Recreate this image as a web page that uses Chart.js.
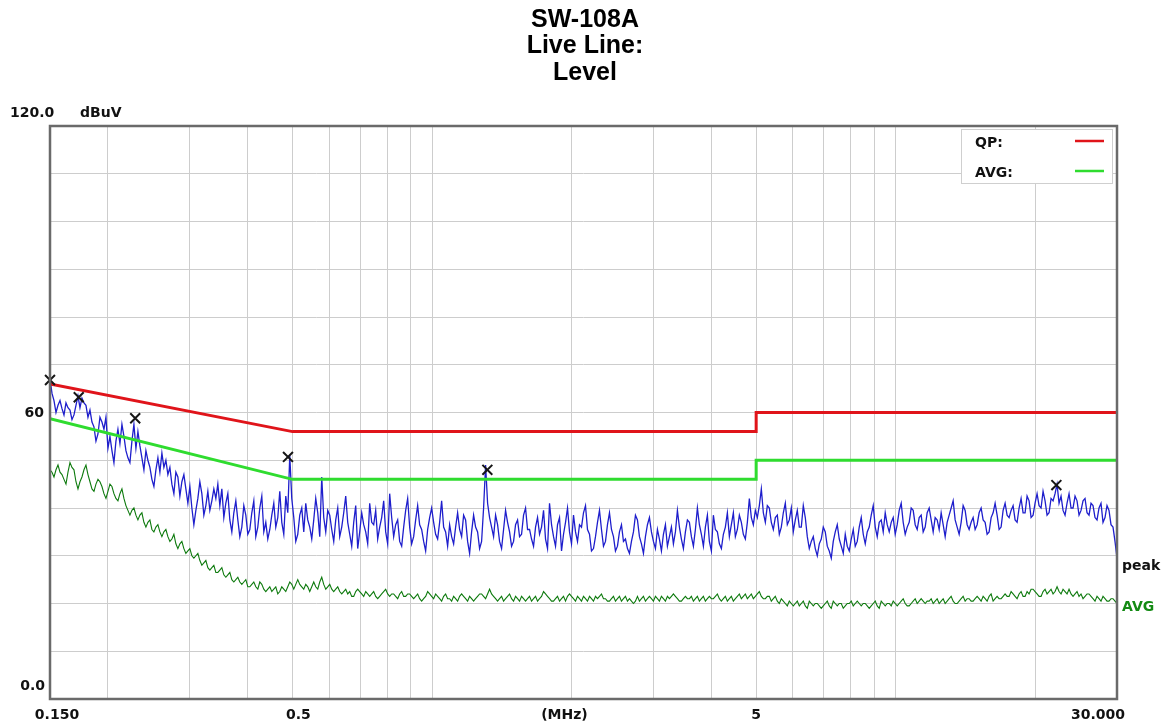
<!DOCTYPE html>
<html>
<head>
<meta charset="utf-8">
<title>SW-108A Live Line: Level</title>
<script src="https://cdn.jsdelivr.net/npm/chart.js@4.4.1/dist/chart.umd.min.js"></script>
<style>
    html, body { margin: 0; padding: 0; background: #ffffff; }
    #wrap { width: 1170px; height: 724px; }
</style>
</head>
<body>
<div id="wrap"><canvas id="chart-live-line" width="1170" height="724"></canvas></div>
<script>
"use strict";

// sweep range of the receiver, MHz
const startMHz = 0.15;
const stopMHz = 30;

// vertical grid lines (MHz) and the frequencies that get a label
const gridMHz = [0.15, 0.2, 0.3, 0.4, 0.5, 0.6, 0.7, 0.8, 0.9, 1, 2, 3, 4, 5, 6, 7, 8, 9, 10, 20, 30];
const xLabelMHz = [0.15, 0.5, 5, 30];
const xLabelText = ['0.150', '0.5', '5', '30.000'];

// limit lines (QP and AVG)
const limitMHz = [0.15, 0.5, 5, 5, 30];
const qpLimit = [66, 56, 56, 60, 60];
const avgLimit = [58.7, 46, 46, 50, 50];

// marked emissions
const markMHz = [0.15, 0.173, 0.229, 0.489, 1.316, 22.2];
const markLevel = [66.8, 63.2, 58.8, 50.7, 48.0, 44.8];

// peak detector trace, dBuV, evenly spaced on the log sweep
const peakLevel = [
    67, 64, 62.5, 60, 61.5, 62.5, 60.8, 59.5, 62, 61, 60.5, 58.5, 59.5, 61.5, 63.5, 61, 63, 62, 61.5, 59,
    60.5, 58, 57, 54, 55.5, 59, 58, 56.5, 59, 52.5, 55, 52, 49.5, 54, 56.5, 53.5, 57.5, 55, 52, 50.5,
    49.5, 54, 57.5, 52.5, 56, 53, 50.5, 48, 52, 50, 48.5, 46, 44.5, 48, 50.5, 47.5, 51.5, 48.5, 50, 47,
    48.5, 45, 43, 47.5, 46.5, 42.5, 45.5, 47, 44, 41, 44.5, 40, 36.5, 39.5, 42, 45.5, 43, 38.5, 40.5, 43.5,
    39.5, 41.5, 44, 42, 45, 40.5, 44, 38, 41, 43, 37.5, 35, 39, 41.5, 37.5, 34, 36, 40.5, 38.5, 34.5,
    35.5, 39, 41.5, 34, 36, 40, 42.5, 35, 37, 33.5, 35.5, 38.5, 41, 36, 38, 43.5, 37, 34.5, 42.5, 39,
    51, 42, 38, 33, 34.5, 38.5, 40, 35, 41, 37.5, 36, 33.5, 37.5, 42, 39, 34, 46.5, 38, 35, 39.5,
    38.5, 35.5, 33, 37.5, 40, 34, 36, 39, 42.5, 37, 34.5, 32, 37, 40.5, 31.5, 35, 39, 36.5, 35, 32.5,
    41, 37, 36.5, 39.5, 33.5, 36, 38, 41.5, 35, 32.5, 43, 38, 34, 36.5, 37.5, 33, 32, 36, 39.5, 42,
    36, 32.5, 34, 37.5, 40.5, 36.5, 35.5, 33, 31, 35.5, 38, 40, 37, 34.5, 33.5, 37, 41.5, 36, 35, 32,
    36.5, 34, 32.5, 36, 39, 35.5, 34, 38.5, 37.5, 33, 30.5, 35, 38.5, 36, 35, 31.5, 33, 40, 49, 41,
    38, 36, 34, 38.5, 36.5, 33, 31.5, 35.5, 39.5, 37, 35, 32, 33, 36.5, 37.5, 34, 34.5, 38.5, 40, 35.5,
    35.5, 33.5, 32, 36, 38, 34.5, 36, 39.5, 33.5, 31.5, 41, 36.5, 34, 32, 36.5, 38, 31, 34.5, 37, 40,
    35, 32.5, 38.5, 35, 33, 36.5, 36, 39, 40.5, 35.5, 34.5, 31, 31.5, 34, 37, 39.5, 35.5, 32, 33, 36.5,
    39, 35.5, 34, 31, 32, 35, 36.5, 33, 33.5, 31.5, 30.5, 33, 35, 38.5, 37.5, 34, 32.5, 30.5, 34, 36.5,
    38, 35, 33, 31.5, 35.5, 33.5, 31, 34.5, 36.5, 32, 34, 36, 32.5, 35, 39.5, 36, 33.5, 31.5, 35, 37.5,
    37, 34, 32, 35.5, 40, 36.5, 34.5, 32, 36, 38.5, 33, 31, 38.5, 35.5, 35, 32.5, 31.5, 34.5, 36, 39,
    34, 36.5, 39, 34, 35.5, 38.5, 37, 34.5, 33.5, 37, 42, 38, 36.5, 39.5, 38, 40.5, 44, 39, 37, 40.5,
    40, 37, 35.5, 38, 38.5, 34.5, 36, 39, 41, 36.5, 37.5, 40, 35, 37.5, 39.5, 36, 36, 40.5, 38, 34,
    31.5, 33, 34, 31.5, 30, 32.5, 33.5, 36, 35, 32, 31, 29.5, 33, 35, 36.5, 33.5, 32, 30.5, 34.5, 32,
    31, 33.5, 35.5, 32, 33, 36, 38, 34.5, 32.5, 35, 36, 38.5, 40.5, 36, 34, 37, 37.5, 35, 39, 36.5,
    35, 37, 38, 34.5, 36.5, 39.5, 41, 37, 34.5, 36, 37, 40, 39.5, 36.5, 35.5, 38, 38.5, 35, 36, 39,
    40, 37.5, 35, 38, 37.5, 35.5, 39, 36.5, 34, 37, 38.5, 40, 41.5, 37.5, 36, 34.5, 37, 40.5, 39.5, 36.5,
    35.5, 37, 38, 35.5, 36.5, 39, 40, 37.5, 37, 34.5, 35, 38, 39, 41, 38.5, 35.5, 36, 39.5, 41, 38.5,
    38, 39.5, 40.5, 37.5, 37, 40, 42, 39, 39, 42.5, 41.5, 38, 38.5, 41, 43, 40.5, 40, 43.5, 41.5, 38.5,
    39, 42, 41.5, 43, 45, 41, 42.5, 39.5, 38.5, 41, 43, 40, 40, 42.5, 41.5, 38.5, 39.5, 41.5, 42, 39,
    38.5, 41, 40.5, 38, 37.5, 40, 41, 37, 38, 40.5, 39.5, 36.5, 36, 33, 29.5
];

// average detector trace, dBuV, same sweep
const avgLevel = [
    48, 47.5, 46.5, 48, 49, 47.5, 47, 46, 45, 47.5, 49.5, 48.5, 48, 45.5, 44, 45.5, 46.5, 48, 49, 47,
    45.5, 44, 43.5, 45, 46, 45.5, 44.5, 43, 42, 43.5, 45, 44.5, 43, 42, 41.5, 43, 44, 42, 40.5, 39.5,
    38.5, 39.5, 40, 38.5, 37.5, 38.5, 39, 37, 36, 37, 37.5, 35.5, 35, 36, 36.5, 35, 34, 35, 35.5, 34,
    33, 33.5, 34.5, 32.5, 31.5, 32.5, 33, 31.5, 30.5, 31, 31.5, 30, 29.5, 30, 30.5, 29, 28, 28.5, 29, 27.5,
    27, 27.5, 28, 26.5, 26.5, 27, 27.5, 26, 25.5, 26, 26.5, 25, 24.5, 25, 25.5, 24.5, 24, 24.5, 25, 23.5,
    23.5, 24, 24.5, 23.5, 23, 24.5, 24, 23, 22.5, 23, 23.5, 22.5, 23, 23.5, 22, 22.5, 23.5, 23, 22.5, 23.5,
    24.5, 24, 23, 24, 25, 24, 23.5, 23, 24, 23.5, 22.5, 23.5, 24.5, 23.5, 23, 24.5, 25.5, 24, 23, 23.5,
    24, 23, 22.5, 23, 23.5, 22.5, 22, 22.5, 23, 22, 22.5, 21.5, 21.5, 22.5, 23, 22.5, 22, 21.5, 22.5, 22,
    21.5, 22, 22.5, 21.5, 21, 21.5, 22, 22.5, 23, 22, 21.5, 22, 22, 21.5, 21, 22, 22.5, 21.5, 21.5, 22,
    22, 21.5, 21, 21.5, 22, 21, 20.5, 21, 21.5, 22.5, 22, 21.5, 21, 22, 21.5, 21, 20.5, 21.5, 22, 21,
    21, 20.5, 21.5, 21, 20.5, 21.5, 22, 21.5, 21, 20.5, 21.5, 21, 20.5, 21, 21.5, 22, 22, 21.5, 21, 22,
    23, 22, 21.5, 21, 20.5, 21, 21.5, 20.5, 21, 21.5, 22, 21, 20.5, 21.5, 21, 20.5, 21.5, 21, 20.5, 21,
    21.5, 20.5, 21, 21.5, 20.5, 21, 21.5, 22.5, 22, 21.5, 21, 20.5, 20.5, 21, 21.5, 20.5, 21, 21.5, 20.5, 21.5,
    22, 21.5, 21, 20.5, 21.5, 21, 20.5, 21.5, 21, 20.5, 21.5, 21, 20.5, 21.5, 21, 21.5, 22, 21, 21, 20.5,
    20.5, 21, 21.5, 20.5, 21, 21.5, 20.5, 21, 21.5, 20.5, 21, 20.5, 20, 20.5, 21.5, 20.5, 21, 21.5, 20.5, 21,
    21.5, 21, 20.5, 21.5, 21, 20.5, 21.5, 21, 20.5, 21.5, 21, 21.5, 22, 21.5, 21, 20.5, 20.5, 21, 21.5, 21,
    21, 21.5, 20.5, 21, 21.5, 20.5, 21, 21.5, 20.5, 21, 21.5, 21, 21, 21.5, 22, 21, 20.5, 21, 21.5, 20.5,
    21, 21.5, 20.5, 21, 21.5, 22, 21, 21.5, 22, 21, 21.5, 22, 21, 21.5, 22, 22.5, 21.5, 21, 21, 21.5,
    21.5, 20.5, 21, 21.5, 20.5, 20, 21, 20.5, 20, 19.5, 20.5, 20, 19.5, 20, 20.5, 19.5, 20, 20.5, 19.5, 19,
    20.5, 20, 19.5, 20, 20, 19.5, 19, 19.5, 20, 20.5, 19.5, 19, 20.5, 20, 19.5, 20, 20, 19, 19.5, 20,
    20, 20.5, 19.5, 20, 20.5, 20, 19.5, 20, 20, 19.5, 19, 19.5, 20, 20.5, 19.5, 19, 20.5, 20, 19.5, 20,
    20, 19.5, 20.5, 20, 19.5, 20, 20.5, 21, 20, 19.5, 19.5, 20, 20.5, 21, 20, 20.5, 21, 20.5, 20, 20.5,
    20.5, 21, 20, 20.5, 21, 20, 20.5, 21, 20, 20.5, 21, 21.5, 20.5, 20, 20, 20.5, 21, 21.5, 20.5, 21,
    21, 20.5, 20.5, 21, 21.5, 21, 20.5, 21.5, 21, 20.5, 21.5, 22, 20.5, 21, 21.5, 21, 21, 21.5, 22, 21.5,
    21.5, 22.5, 22, 21.5, 21, 22, 22.5, 21.5, 21.5, 22.5, 22, 23, 23, 22.5, 22, 21.5, 21.5, 22.5, 23, 22,
    22.5, 23, 22, 22.5, 23.5, 22.5, 22, 23, 22.5, 22, 23, 22, 21.5, 22, 22.5, 21.5, 22, 21, 21.5, 22,
    22, 21.5, 21, 20.5, 21.5, 21, 20.5, 21.5, 21, 20.5, 20.5, 21, 21, 20.5, 20
];

const labelFont = "bold 14px 'DejaVu Sans'";

// pairs each reading with its sweep frequency (log spaced)
function onSweep(levels) {
    const n = levels.length;
    return levels.map((v, i) => ({ x: startMHz * Math.pow(stopMHz / startMHz, i / (n - 1)), y: v }));
}

function pairs(xs, ys) {
    return xs.map((x, i) => ({ x: x, y: ys[i] }));
}

// title, frame, legend box and the hand placed axis texts
const plotDecor = {
    id: 'plotDecor',
    afterDraw(chart) {
        const ctx = chart.ctx;
        const a = chart.chartArea;
        const xs = chart.scales.x;
        const ys = chart.scales.y;
        ctx.save();

        ctx.strokeStyle = '#6a6a6a';
        ctx.lineWidth = 2.5;
        ctx.strokeRect(a.left, a.top, a.right - a.left, a.bottom - a.top);

        ctx.fillStyle = '#000000';
        ctx.textAlign = 'center';
        ctx.font = "bold 25px 'Liberation Sans'";
        ctx.fillText('SW-108A', chart.width / 2, 27);
        ctx.fillText('Live Line:', chart.width / 2, 53);
        ctx.fillText('Level', chart.width / 2, 80);

        ctx.font = labelFont;
        ctx.fillStyle = '#111111';
        ctx.textAlign = 'left';
        ctx.fillText('120.0', 10, a.top - 9);
        ctx.fillText('dBuV', 80, a.top - 9);
        ctx.textAlign = 'right';
        ctx.fillText('60', a.left - 6, ys.getPixelForValue(60) + 4);
        ctx.fillText('0.0', a.left - 5, a.bottom - 9);

        ctx.textAlign = 'center';
        const nudge = [7, 6, 0, -19];
        xLabelMHz.forEach((f, i) => {
            ctx.fillText(xLabelText[i], xs.getPixelForValue(f) + nudge[i], a.bottom + 20);
        });
        ctx.fillText('(MHz)', xs.getPixelForValue(1.93), a.bottom + 20);

        ctx.textAlign = 'left';
        ctx.fillText('peak', a.right + 5, ys.getPixelForValue(28) + 5);
        ctx.fillStyle = '#138a13';
        ctx.fillText('AVG', a.right + 5, ys.getPixelForValue(19.5) + 5);

        // legend box, top right inside the plot
        const lx = a.right - 156, ly = a.top + 3;
        ctx.fillStyle = '#ffffff';
        ctx.fillRect(lx, ly, 151, 54);
        ctx.strokeStyle = '#cfcfcf';
        ctx.lineWidth = 1;
        ctx.strokeRect(lx + 0.5, ly + 0.5, 151, 54);
        ctx.fillStyle = '#111111';
        ctx.fillText('QP:', lx + 14, ly + 18);
        ctx.fillText('AVG:', lx + 14, ly + 48);
        ctx.lineWidth = 2.5;
        ctx.strokeStyle = '#e0141a';
        ctx.beginPath();
        ctx.moveTo(lx + 114, ly + 12);
        ctx.lineTo(lx + 143, ly + 12);
        ctx.stroke();
        ctx.strokeStyle = '#2fdc2f';
        ctx.beginPath();
        ctx.moveTo(lx + 114, ly + 42);
        ctx.lineTo(lx + 143, ly + 42);
        ctx.stroke();

        ctx.restore();
    }
};

new Chart(document.getElementById('chart-live-line').getContext('2d'), {
    type: 'line',
    data: {
        datasets: [
            {
                label: 'Marks',
                data: pairs(markMHz, markLevel),
                showLine: false,
                pointStyle: 'crossRot',
                pointRadius: 7,
                pointBorderWidth: 2,
                borderColor: '#151515',
                backgroundColor: '#151515',
                clip: false,
                order: 0
            },
            {
                label: 'QP',
                data: pairs(limitMHz, qpLimit),
                borderColor: '#e0141a',
                borderWidth: 3,
                pointRadius: 0,
                order: 1
            },
            {
                label: 'AVG',
                data: pairs(limitMHz, avgLimit),
                borderColor: '#2fdc2f',
                borderWidth: 3,
                pointRadius: 0,
                order: 2
            },
            {
                label: 'peak',
                data: onSweep(peakLevel),
                borderColor: '#1e1ecc',
                borderWidth: 1.3,
                pointRadius: 0,
                order: 3
            },
            {
                label: 'avg trace',
                data: onSweep(avgLevel),
                borderColor: '#0d7a0d',
                borderWidth: 1.1,
                pointRadius: 0,
                order: 4
            }
        ]
    },
    options: {
        responsive: false,
        animation: false,
        events: [],
        layout: {
            autoPadding: false,
            padding: { left: 50, right: 53, top: 126, bottom: 25 }
        },
        elements: {
            line: { tension: 0 }
        },
        plugins: {
            legend: { display: false },
            title: { display: false },
            tooltip: { enabled: false }
        },
        scales: {
            x: {
                type: 'logarithmic',
                min: startMHz,
                max: stopMHz,
                afterBuildTicks: (scale) => {
                    scale.ticks = gridMHz.map(v => ({ value: v }));
                },
                ticks: { display: false },
                grid: { color: '#cdcdcd', lineWidth: 1, drawTicks: false },
                border: { display: false }
            },
            y: {
                min: 0,
                max: 120,
                ticks: { display: false, stepSize: 10 },
                grid: { color: '#cdcdcd', lineWidth: 1, drawTicks: false },
                border: { display: false }
            }
        }
    },
    plugins: [plotDecor]
});
</script>
</body>
</html>
